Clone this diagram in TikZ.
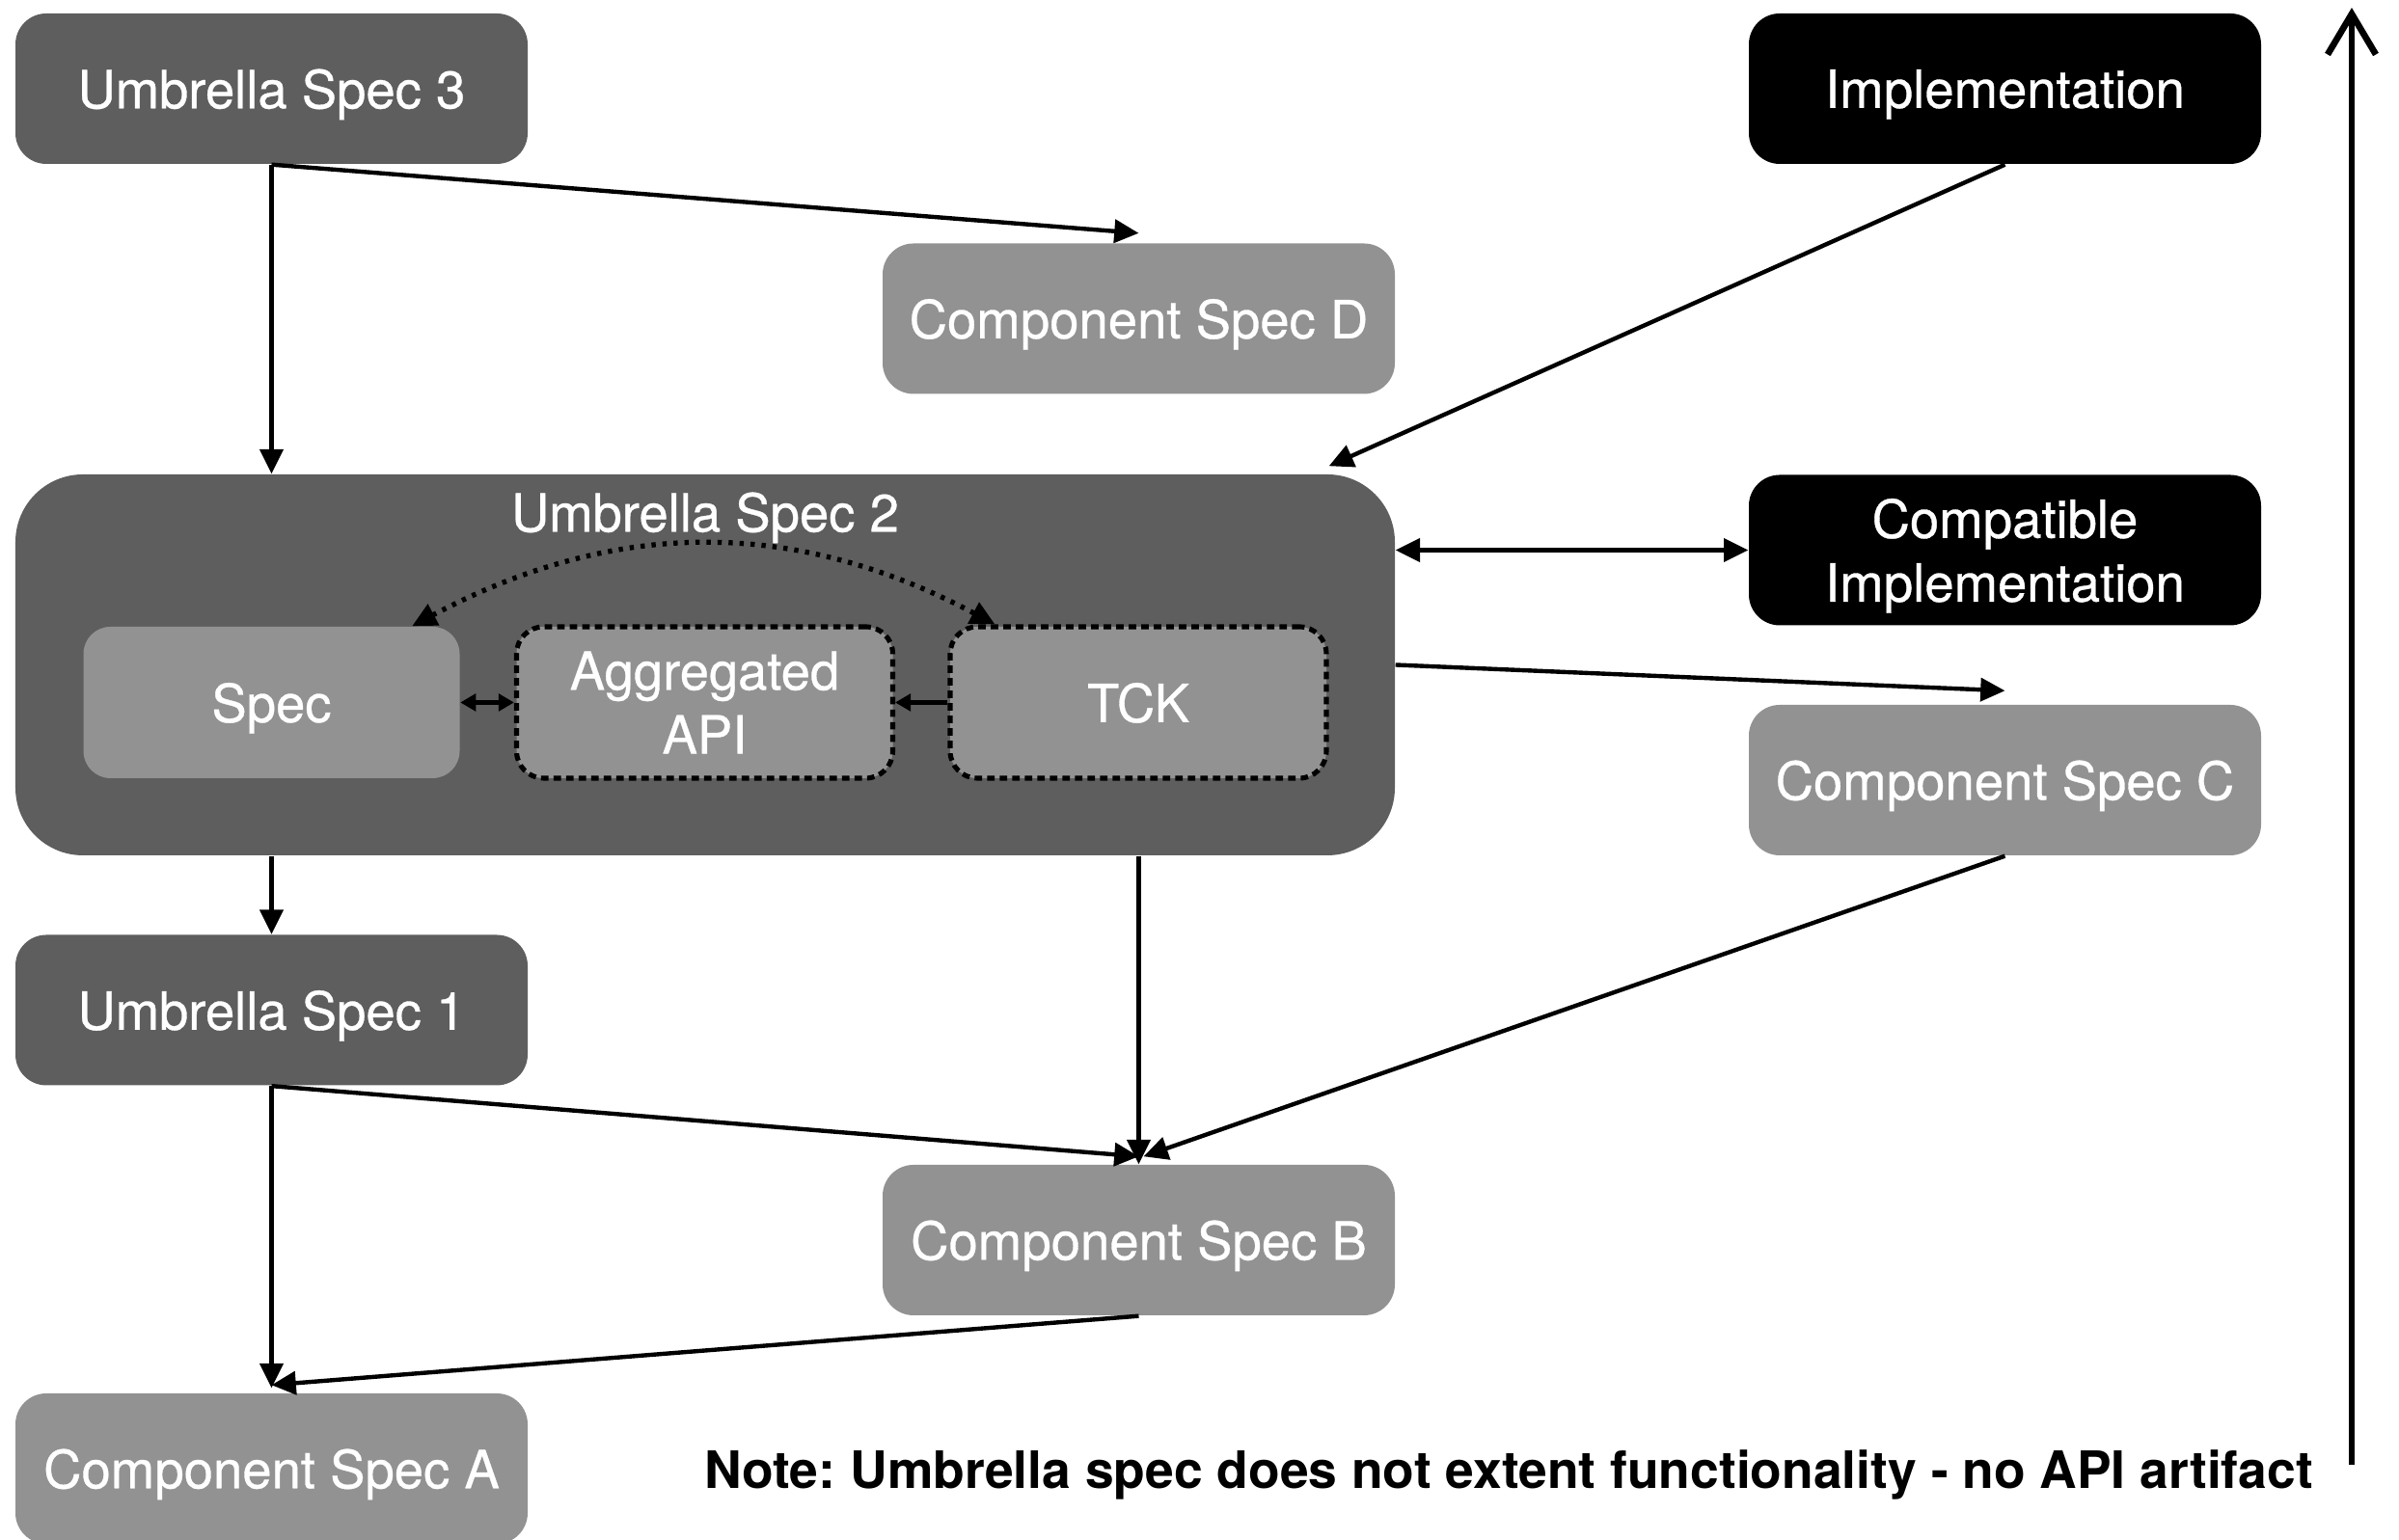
\documentclass[tikz,border=0pt]{standalone}
\usepackage{fontspec}
\setmainfont{TeX Gyre Heros}
\newfontfamily\boxfont{TeX Gyre Heros}[FakeBold=0.6]
\usetikzlibrary{arrows.meta}
\definecolor{darkbox}{RGB}{94,94,94}
\definecolor{lightbox}{RGB}{146,146,146}
\frenchspacing
\begin{document}
\begin{tikzpicture}[
    box/.style={rounded corners=0.32cm, minimum width=5.31cm, minimum height=1.56cm, text=white, align=center, text depth=0pt, font=\boxfont\fontsize{15.5}{18.8}\selectfont},
    darkspec/.style={box, fill=darkbox},
    lightspec/.style={box, fill=lightbox},
    implbox/.style={box, fill=black},
    innerbox/.style={box, fill=lightbox, rounded corners=0.28cm, minimum width=3.9cm, minimum height=1.57cm},
    dashbox/.style={innerbox, draw=black, dash pattern=on 2.2pt off 1.5pt, line width=1.45pt},
    link/.style={line width=1.25pt, -{Triangle[length=7.2pt,width=6.8pt]}},
    twolink/.style={line width=1.25pt, {Triangle[length=7.2pt,width=6.8pt]}-{Triangle[length=7.2pt,width=6.8pt]}},
    smalllink/.style={line width=1.25pt, -{Triangle[length=4.6pt,width=5pt]}},
    smalltwolink/.style={line width=1.25pt, {Triangle[length=4.6pt,width=5pt]}-{Triangle[length=4.6pt,width=5pt]}}
    ]
    \useasboundingbox (0,0) rectangle (24.87,15.97);
    \node[darkspec] (us3) at (2.815,15.05) {Umbrella Spec 3};
    \node[lightspec] (compD) at (11.805,12.665) {Component Spec D};
    \node[implbox] (impl) at (20.785,15.05) {Implementation};
    \node[darkspec, rounded corners=0.7cm, minimum width=14.3cm, minimum height=3.95cm] (us2) at (7.31,9.075) {};
    \node[text=white, text depth=0pt, font=\boxfont\fontsize{15.5}{18.8}\selectfont] (us2label) at (7.31,10.66) {Umbrella Spec 2};
    \node[implbox] (compat) at (20.785,10.265) {Compatible\\Implementation};
    \node[lightspec] (compC) at (20.785,7.88) {Component Spec C};
    \node[innerbox] (spec) at (2.815,8.685) {Spec};
    \node[dashbox] (agg) at (7.305,8.685) {Aggregated\\API};
    \node[dashbox] (tck) at (11.8,8.685) {TCK};
    \node[darkspec] (us1) at (2.815,5.495) {Umbrella Spec 1};
    \node[lightspec] (compB) at (11.805,3.11) {Component Spec B};
    \node[lightspec] (compA) at (2.815,0.74) {Component Spec A};
    \node[font=\fontsize{15.2}{18}\selectfont\bfseries] (note) at (15.64,0.68) {Note: Umbrella spec does not extent functionality - no API artifact};
    \coordinate (levellow) at (24.38,0.78);
    \coordinate (levelhigh) at (24.38,15.89);

    \draw[link] (us3.south) -- (us3.south |- us2.north);
    \draw[link] (us3.south) -- ([yshift=0.1cm]compD.north);
    \draw[link] (impl.south) -- ([xshift=-0.69cm,yshift=0.08cm]us2.north east);
    \draw[twolink] (us2.east |- compat.west) -- (compat.west);
    \draw[link] (us2.east) -- ([yshift=0.14cm]compC.north);
    \draw[smalltwolink] (spec.east) -- (agg.west);
    \draw[smalllink] (tck.west) -- (agg.east);
    \draw[twolink, dotted, line width=1.5pt] ([xshift=-0.5cm]spec.north east) to[out=28,in=152] ([xshift=0.49cm]tck.north west);
    \draw[link] (us1.north |- us2.south) -- (us1.north);
    \draw[link] (compB.north |- us2.south) -- (compB.north);
    \draw[link] (compC.south) -- ([xshift=0.05cm,yshift=0.08cm]compB.north);
    \draw[link] (us1.south) -- ([yshift=0.08cm]compB.north);
    \draw[link] (us1.south) -- ([yshift=0.05cm]compA.north);
    \draw[link] (compB.south) -- ([yshift=0.08cm]compA.north);
    \draw[line width=1.9pt, -{Straight Barb[length=0.42cm,width=0.5cm]}] (levellow) -- (levelhigh);
\end{tikzpicture}
\end{document}
